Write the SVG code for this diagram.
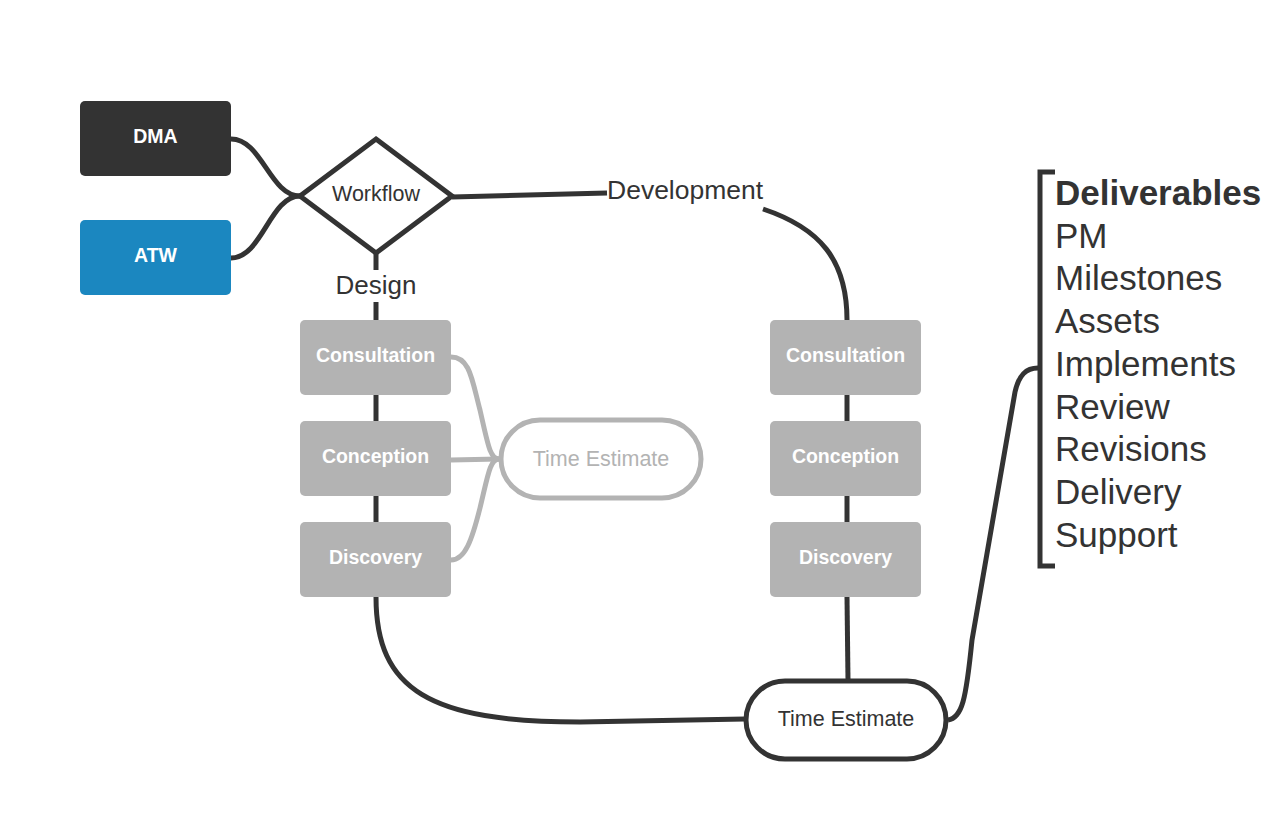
<svg xmlns="http://www.w3.org/2000/svg" width="1288" height="832" viewBox="0 0 1288 832">
<style>
.t{font-family:"Liberation Sans",Arial,sans-serif;}
.box{fill:#b3b3b3;}
.bl{font-family:"Liberation Sans",Arial,sans-serif;font-weight:bold;font-size:19.5px;fill:#fff;text-anchor:middle;}
.ln{fill:none;stroke:#333;stroke-width:5;}
.gl{fill:none;stroke:#b3b3b3;stroke-width:5;}
.lst{font-family:"Liberation Sans",Arial,sans-serif;font-size:35px;fill:#333;}
</style>
<rect width="1288" height="832" fill="#fff"/>
<g id="connectors">
<path class="ln" d="M231,139 C262,139 270,196 300,196"/>
<path class="ln" d="M231,258 C262,258 270,196 300,196"/>
<path class="ln" d="M376,253 L376,270"/>
<path class="ln" d="M376,302 L376,320"/>
<path class="ln" d="M376,395 L376,421"/>
<path class="ln" d="M376,496 L376,522"/>
<path class="ln" d="M376,597 C376,690 430,722 580,722 L745,719"/>
<path class="ln" d="M452,197 L607,193"/>
<path class="ln" d="M763,209 C820,228 847,260 847,320"/>
<path class="ln" d="M847,395 L847,421"/>
<path class="ln" d="M847,496 L847,522"/>
<path class="ln" d="M847,597 L848,680"/>
<path class="ln" d="M948,720 C962,718 966,700 972,640 L1015,392 C1019,375 1026,368 1038,368"/>
<path class="gl" d="M451,357 C470,357 472,380 480,410 C488,445 490,459 499,459"/>
<path class="gl" d="M451,460 L499,459"/>
<path class="gl" d="M451,560 C465,560 472,540 480,508 C488,475 490,459 499,459"/>
</g>
<g id="dma">
<rect x="80" y="101" width="151" height="75" rx="5" fill="#333"/>
<text class="bl" x="155.5" y="143">DMA</text>
</g>
<g id="atw">
<rect x="80" y="220" width="151" height="75" rx="5" fill="#1b87c0"/>
<text class="bl" x="155.5" y="262">ATW</text>
</g>
<g id="workflow">
<polygon points="376,139 452,196 376,253 300,196" fill="#fff" stroke="#333" stroke-width="5" stroke-linejoin="miter"/>
<text class="t" x="376" y="201" font-size="21.5" fill="#333" text-anchor="middle">Workflow</text>
</g>
<g id="design-label">
<text class="t" x="376" y="294" font-size="26" fill="#333" text-anchor="middle">Design</text>
</g>
<g id="development-label">
<text class="t" x="607" y="199" font-size="26.5" fill="#333">Development</text>
</g>
<g id="design-consultation">
<rect class="box" x="300" y="320" width="151" height="75" rx="5"/>
<text class="bl" x="375.5" y="362">Consultation</text>
</g>
<g id="design-conception">
<rect class="box" x="300" y="421" width="151" height="75" rx="5"/>
<text class="bl" x="375.5" y="463">Conception</text>
</g>
<g id="design-discovery">
<rect class="box" x="300" y="522" width="151" height="75" rx="5"/>
<text class="bl" x="375.5" y="564">Discovery</text>
</g>
<g id="dev-consultation">
<rect class="box" x="770" y="320" width="151" height="75" rx="5"/>
<text class="bl" x="845.5" y="362">Consultation</text>
</g>
<g id="dev-conception">
<rect class="box" x="770" y="421" width="151" height="75" rx="5"/>
<text class="bl" x="845.5" y="463">Conception</text>
</g>
<g id="dev-discovery">
<rect class="box" x="770" y="522" width="151" height="75" rx="5"/>
<text class="bl" x="845.5" y="564">Discovery</text>
</g>
<g id="time-estimate-gray">
<rect x="501" y="420" width="200" height="78" rx="39" fill="#fff" stroke="#b3b3b3" stroke-width="5"/>
<text class="t" x="601" y="466" font-size="21.5" fill="#b3b3b3" text-anchor="middle">Time Estimate</text>
</g>
<g id="time-estimate">
<rect x="746" y="681" width="200" height="78" rx="39" fill="#fff" stroke="#333" stroke-width="5"/>
<text class="t" x="846" y="726" font-size="21.5" fill="#333" text-anchor="middle">Time Estimate</text>
</g>
<g id="deliverables">
<path class="ln" d="M1055,172 L1040,172 L1040,566 L1055,566"/>
<text class="lst" x="1055" y="205" font-weight="bold">Deliverables</text>
<text class="lst" x="1055" y="247.5">PM</text>
<text class="lst" x="1055" y="290">Milestones</text>
<text class="lst" x="1055" y="333">Assets</text>
<text class="lst" x="1055" y="375.5">Implements</text>
<text class="lst" x="1055" y="418.5">Review</text>
<text class="lst" x="1055" y="461">Revisions</text>
<text class="lst" x="1055" y="504">Delivery</text>
<text class="lst" x="1055" y="547">Support</text>
</g>
</svg>
